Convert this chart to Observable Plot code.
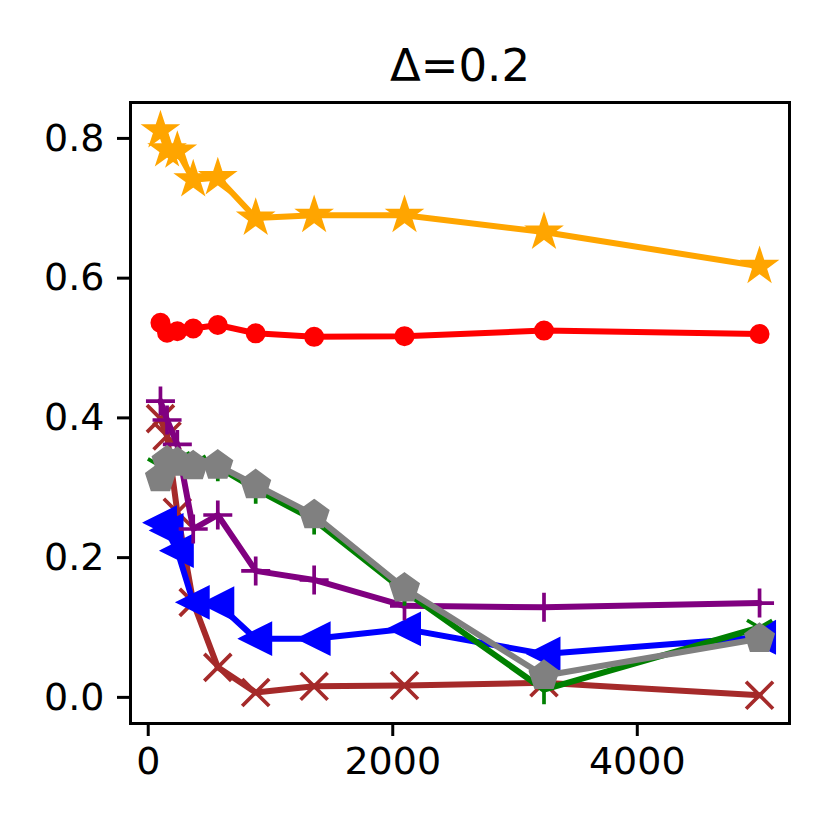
<!DOCTYPE html>
<html>
<head>
<meta charset="utf-8">
<script src="https://cdn.jsdelivr.net/npm/d3@7"></script>
<script src="https://cdn.jsdelivr.net/npm/@observablehq/plot@0.6"></script>
<style>
  html, body { margin: 0; padding: 0; background: white; }
  #chart svg { display: block; }
</style>
</head>
<body>
<div id="chart"></div>
<script>
// ---- data ----
const title = "Δ=0.2";
const xValues = [100, 154, 238, 368, 569, 879, 1357, 2096, 3237, 5000];
const orangeStar   = [0.811, 0.784, 0.782, 0.741, 0.744, 0.686, 0.690, 0.690, 0.666, 0.617];
const redCircle    = [0.536, 0.522, 0.524, 0.528, 0.533, 0.521, 0.516, 0.517, 0.525, 0.520];
const brownX       = [0.399, 0.374, 0.265, 0.136, 0.043, 0.007, 0.016, 0.017, 0.021, 0.003];
const blueTriangle = [0.250, 0.239, 0.210, 0.136, 0.134, 0.084, 0.084, 0.098, 0.062, 0.086];
const purplePlus   = [0.424, 0.397, 0.362, 0.241, 0.261, 0.181, 0.168, 0.131, 0.129, 0.135];
const greenTri     = [0.331, 0.336, 0.340, 0.335, 0.330, 0.298, 0.254, 0.152, 0.011, 0.100];
const grayPentagon = [0.314, 0.338, 0.336, 0.331, 0.332, 0.304, 0.261, 0.156, 0.031, 0.084];
const xTicks = [0, 2000, 4000];
const yTicks = [0.0, 0.2, 0.4, 0.6, 0.8];

// ---- custom matplotlib-like marker symbols ----
function polygonSymbol(points) {
  return { draw(ctx) {
    points.forEach(([px, py], i) => i ? ctx.lineTo(px, py) : ctx.moveTo(px, py));
    ctx.closePath();
  }};
}
function starPts(R) {
  const pts = [];
  for (let i = 0; i < 10; i++) {
    const a = -Math.PI / 2 + i * Math.PI / 5;
    const rr = i % 2 ? R * 0.381966 : R;
    pts.push([rr * Math.cos(a), rr * Math.sin(a)]);
  }
  return pts;
}
function pentPts(R) {
  const pts = [];
  for (let i = 0; i < 5; i++) {
    const a = -Math.PI / 2 + i * 2 * Math.PI / 5;
    pts.push([R * Math.cos(a), R * Math.sin(a)]);
  }
  return pts;
}
const starSym = polygonSymbol(starPts(16));
const pentSym = polygonSymbol(pentPts(14.5));
const leftTriSym = polygonSymbol([[-15, 0], [15, -15], [15, 15]]);
const plusSym = { draw(ctx) { const R = 14.5; ctx.moveTo(-R, 0); ctx.lineTo(R, 0); ctx.moveTo(0, -R); ctx.lineTo(0, R); } };
const timesSym = { draw(ctx) { const R = 13.5; ctx.moveTo(-R, -R); ctx.lineTo(R, R); ctx.moveTo(-R, R); ctx.lineTo(R, -R); } };
const triDownSym = { draw(ctx) {
  const R = 14.5;
  ctx.moveTo(0, 0); ctx.lineTo(0, R);
  ctx.moveTo(0, 0); ctx.lineTo(-R * 0.866, -R * 0.5);
  ctx.moveTo(0, 0); ctx.lineTo(R * 0.866, -R * 0.5);
}};
const circleSym = { draw(ctx) { const r = 8.5; ctx.moveTo(r, 0); ctx.arc(0, 0, r, 0, 2 * Math.PI); } };

const series = [
  { values: orangeStar,   color: "orange", symbol: starSym,     filled: true },
  { values: redCircle,    color: "red",    symbol: circleSym,   filled: true },
  { values: brownX,       color: "brown",  symbol: timesSym,    filled: false },
  { values: blueTriangle, color: "blue",   symbol: leftTriSym,  filled: true },
  { values: purplePlus,   color: "purple", symbol: plusSym,     filled: false },
  { values: greenTri,     color: "green",  symbol: triDownSym,  filled: false },
  { values: grayPentagon, color: "gray",   symbol: pentSym,     filled: true }
];

const marks = [];
for (const s of series) {
  const data = xValues.map((x, i) => ({ x, y: s.values[i] }));
  marks.push(Plot.line(data, { x: "x", y: "y", stroke: s.color, strokeWidth: 6, strokeLinejoin: "round" }));
  marks.push(Plot.dot(data, {
    x: "x", y: "y", symbol: () => s.symbol, r: 5,
    fill: s.filled ? s.color : "none",
    stroke: s.color,
    strokeWidth: s.filled ? 3 : 3.7,
    strokeLinejoin: "miter"
  }));
}

const chart = Plot.plot({
  width: 830,
  height: 830,
  marginLeft: 130,
  marginRight: 41,
  marginTop: 102,
  marginBottom: 107,
  style: { fontFamily: "DejaVu Sans", fontSize: "38px", color: "black", background: "white", overflow: "visible" },
  x: { domain: [-145, 5245] },
  y: { domain: [-0.0374, 0.8514] },
  symbol: { type: "identity" },
  marks: [
    ...marks,
    Plot.frame({ stroke: "black", strokeWidth: 3 }),
    Plot.axisX({ ticks: xTicks, tickFormat: d3.format("d"), tickSize: 13, tickPadding: 11, strokeWidth: 3, fontSize: 38, label: null }),
    Plot.axisY({ ticks: yTicks, tickFormat: d3.format(".1f"), tickSize: 13, tickPadding: 13, strokeWidth: 3, fontSize: 38, label: null }),
    Plot.text([title], { frameAnchor: "top", dy: -22, lineAnchor: "bottom", fontSize: 45, fill: "black" })
  ]
});
document.getElementById("chart").appendChild(chart);
</script>
</body>
</html>
